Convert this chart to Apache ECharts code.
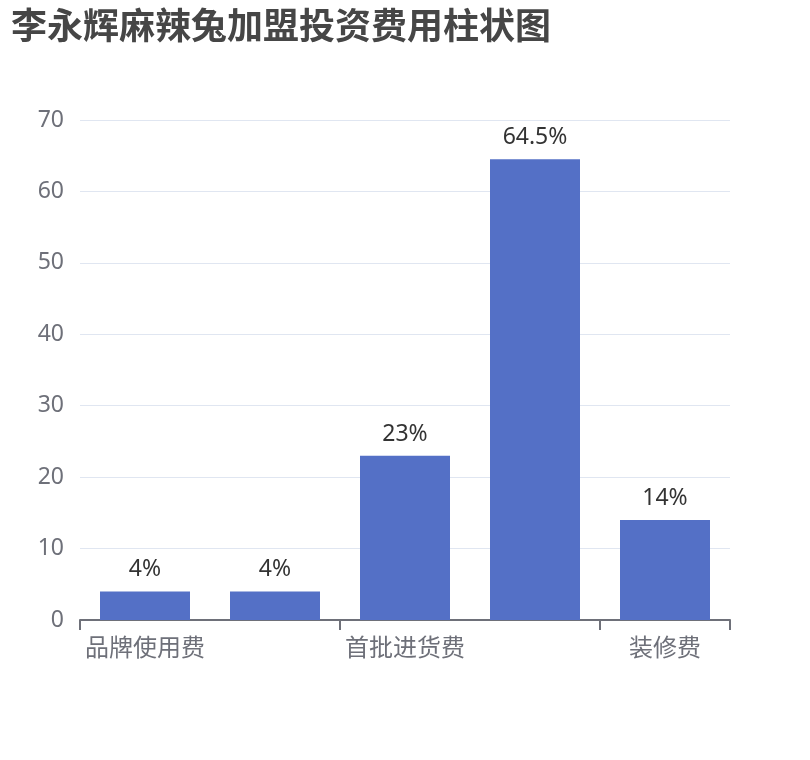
<!DOCTYPE html>
<html><head><meta charset="utf-8">
<script src="https://cdn.jsdelivr.net/npm/echarts@6/dist/echarts.min.js"></script>
<style>html,body{margin:0;padding:0;background:#fff}#c{width:810px;height:760px}</style>
</head><body><div id="c"></div>
<script>
const titleText = '李永辉麻辣兔加盟投资费用柱状图';
const categories = ['品牌使用费', '加盟保证金', '首批进货费', '设备费用', '装修费'];
const values = [4, 4, 23, 64.5, 14];
const yTicks = { min: 0, max: 70, interval: 10 };

const chart = echarts.init(document.getElementById('c'));
chart.setOption({
  animation: false,
  title: { text: titleText, left: 6, top: 2, textStyle: { fontSize: 36, fontWeight: 'bold', color: '#464646', fontFamily: 'Noto Sans CJK SC' } },
  grid: { left: 80, right: 80, top: 120, bottom: 140 },
  xAxis: {
    type: 'category', data: categories,
    axisLabel: { interval: 1, fontSize: 24, color: '#6E7079', fontFamily: 'Noto Sans CJK SC', margin: 15 },
    axisLine: { lineStyle: { color: '#6E7079', width: 2 } },
    axisTick: { show: true, interval: 1, length: 10, lineStyle: { color: '#6E7079', width: 2 } }
  },
  yAxis: {
    type: 'value', min: yTicks.min, max: yTicks.max, interval: yTicks.interval,
    axisLabel: { fontSize: 23, color: '#6E7079', fontFamily: 'Noto Sans', margin: 16 },
    splitLine: { lineStyle: { color: '#E0E6F1' } }
  },
  series: [{
    type: 'bar', data: values, barWidth: 90,
    itemStyle: { color: '#5470C6' },
    label: { show: true, position: 'top', formatter: '{c}%', fontSize: 23, color: '#333', fontFamily: 'Noto Sans', distance: 10 }
  }]
});
</script></body></html>
